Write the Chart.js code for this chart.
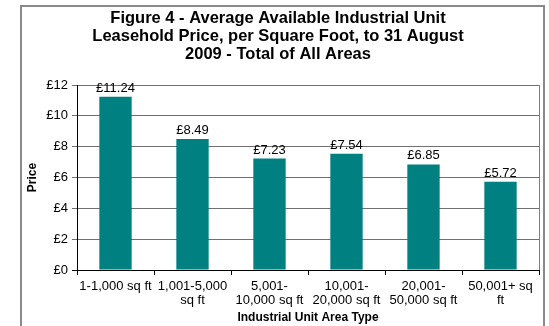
<!DOCTYPE html>
<html>
<head>
<meta charset="utf-8">
<script src="https://cdn.jsdelivr.net/npm/chart.js@4/dist/chart.umd.min.js"></script>
<style>
  html, body { margin: 0; padding: 0; background: #ffffff; }
  #wrap { position: relative; width: 549px; height: 326px; }
</style>
</head>
<body>
<div id="wrap"><canvas id="c" width="549" height="326"></canvas></div>
<script>
const titleLines = [
  "Figure 4 - Average Available Industrial Unit",
  "Leasehold Price, per Square Foot, to 31 August",
  "2009 - Total of All Areas"
];
const categories = [
  ["1-1,000 sq ft"],
  ["1,001-5,000", "sq ft"],
  ["5,001-", "10,000 sq ft"],
  ["10,001-", "20,000 sq ft"],
  ["20,001-", "50,000 sq ft"],
  ["50,001+ sq", "ft"]
];
const prices = [11.24, 8.49, 7.23, 7.54, 6.85, 5.72];
const yTicks = [0, 2, 4, 6, 8, 10, 12];
const xAxisTitle = "Industrial Unit Area Type";
const yAxisTitle = "Price";

const FONT = "'Liberation Sans', Arial, sans-serif";

const decorPlugin = {
  id: 'decor',
  beforeDraw(chart) {
    const ctx = chart.ctx;
    ctx.save();
    ctx.fillStyle = '#ffffff';
    ctx.fillRect(0, 0, chart.width, chart.height);
    ctx.strokeStyle = '#8a8a8a';
    ctx.lineWidth = 2;
    ctx.strokeRect(21, 6, 523, 340);
    ctx.restore();
  },
  afterDraw(chart) {
    const ctx = chart.ctx;
    const a = chart.chartArea;
    ctx.save();
    ctx.strokeStyle = '#808080';
    ctx.lineWidth = 1;
    ctx.beginPath();
    ctx.moveTo(Math.round(a.right) + 0.5, a.top);
    ctx.lineTo(Math.round(a.right) + 0.5, a.bottom);
    ctx.stroke();
    ctx.fillStyle = '#000000';
    ctx.font = "bold 16.5px " + FONT;
    ctx.textAlign = 'center';
    ctx.textBaseline = 'middle';
    titleLines.forEach((t, i) => ctx.fillText(t, 278, 18 + i * 18));
    ctx.restore();
  },
  afterDatasetsDraw(chart) {
    const ctx = chart.ctx;
    const meta = chart.getDatasetMeta(0);
    ctx.save();
    ctx.fillStyle = '#000000';
    ctx.font = "13px " + FONT;
    ctx.textAlign = 'center';
    ctx.textBaseline = 'alphabetic';
    meta.data.forEach((bar, i) => {
      ctx.fillText('£' + prices[i].toFixed(2), bar.x, bar.y - 5);
    });
    ctx.restore();
  }
};

new Chart(document.getElementById('c'), {
  type: 'bar',
  data: {
    labels: categories,
    datasets: [{
      data: prices,
      backgroundColor: '#008080',
      borderWidth: 0,
      barPercentage: 0.42,
      categoryPercentage: 1.0
    }]
  },
  options: {
    responsive: false,
    animation: false,
    events: [],
    layout: { padding: { left: 0, right: 10, top: 85, bottom: 0 } },
    plugins: {
      legend: { display: false },
      title: { display: false },
      tooltip: { enabled: false }
    },
    scales: {
      x: {
        grid: { display: true, drawOnChartArea: false, drawTicks: true, tickLength: 5, color: '#000000', offset: true },
        border: { display: true, color: '#000000', width: 1 },
        ticks: { color: '#000000', font: { family: FONT, size: 13, lineHeight: 1.08 }, padding: 4, maxRotation: 0, autoSkip: false },
        title: { display: true, text: xAxisTitle, color: '#000000', font: { family: FONT, size: 12, weight: 'bold' }, padding: { top: 0, bottom: 1 } },
        afterFit(scale) { scale.height = 56; }
      },
      y: {
        min: 0, max: 12,
        afterBuildTicks(scale) { scale.ticks = yTicks.map(v => ({ value: v })); },
        grid: { display: true, drawOnChartArea: true, drawTicks: true, tickLength: 5, color: (c) => c.tick && c.tick.value === 0 ? '#000000' : '#707070' },
        border: { display: true, color: '#000000', width: 1 },
        ticks: { color: '#000000', font: { family: FONT, size: 13 }, padding: 4, callback: (v) => '£' + v },
        title: { display: true, text: yAxisTitle, color: '#000000', font: { family: FONT, size: 12, weight: 'bold' }, padding: { top: 25, bottom: 0 } },
        afterFit(scale) { scale.width = 77; }
      }
    }
  },
  plugins: [decorPlugin]
});
</script>
</body>
</html>
